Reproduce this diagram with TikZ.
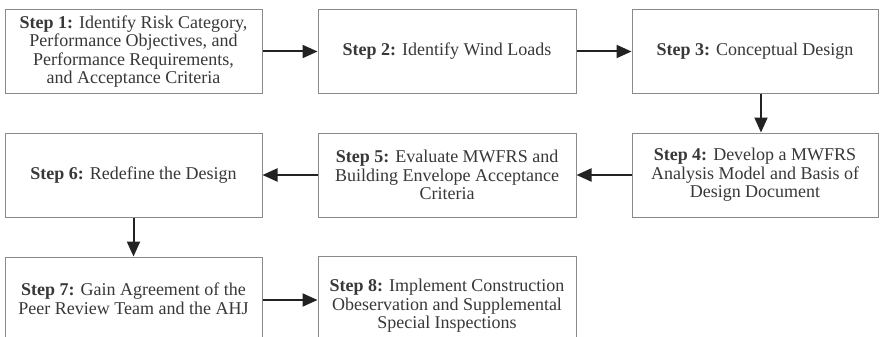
\documentclass[tikz,border=0pt]{standalone}
\usepackage{fontspec}
\setmainfont{Liberation Serif}
\usetikzlibrary{arrows.meta}
\definecolor{boxline}{HTML}{8A8A8A}
\definecolor{txt}{HTML}{383838}
\definecolor{arr}{HTML}{222222}
\begin{document}
\begin{tikzpicture}[x=1pt,y=-1pt,
  stepbox/.style={draw=boxline,line width=1pt,fill=white,text=txt,align=center,
    inner sep=0pt,minimum height=84pt,font=\fontsize{18}{18.6}\selectfont},
  flow/.style={draw=arr,line width=2pt,-{Triangle[length=15pt,width=13pt]}}]
\fill[white] (0,0) rectangle (884,337);
\useasboundingbox (0,0) rectangle (884,337);
\clip (0,0) rectangle (884,337);
\node[stepbox,minimum width=257pt] (s1) at (133.5,51.5) {\textbf{Step 1:} Identify Risk Category,\\Performance Objectives, and\\Performance Requirements,\\and Acceptance Criteria};
\node[stepbox,minimum width=258pt] (s2) at (447,51.5) {\textbf{Step 2:} Identify Wind Loads};
\node[stepbox,minimum width=246pt] (s3) at (755,51.5) {\textbf{Step 3:} Conceptual Design};
\node[stepbox,minimum width=246pt] (s4) at (755,175) {\textbf{Step 4:} Develop a MWFRS\\Analysis Model and Basis of\\Design Document};
\node[stepbox,minimum width=258pt] (s5) at (447,175) {\textbf{Step 5:} Evaluate MWFRS and\\Building Envelope Acceptance\\Criteria};
\node[stepbox,minimum width=257pt] (s6) at (133.5,175) {\textbf{Step 6:} Redefine the Design};
\node[stepbox,minimum width=257pt] (s7) at (133.5,299) {\textbf{Step 7:} Gain Agreement of the\\Peer Review Team and the AHJ};
\node[stepbox,minimum width=258pt,minimum height=100pt] (s8) at (447,306) {\textbf{Step 8:} Implement Construction\\Obeservation and Supplemental\\Special Inspections};
\draw[flow] (s1.east) -- (s2.west);
\draw[flow] (s2.east) -- (s3.west);
\draw[flow] ([xshift=6pt]s3.south) -- ([xshift=6pt]s4.north);
\draw[flow] (s4.west) -- (s5.east);
\draw[flow] (s5.west) -- (s6.east);
\draw[flow] (s6.south) -- (s7.north);
\draw[flow] ([yshift=-1pt]s7.east) -- ([yshift=-1pt]s7.east -| s8.west);
\end{tikzpicture}
\end{document}
